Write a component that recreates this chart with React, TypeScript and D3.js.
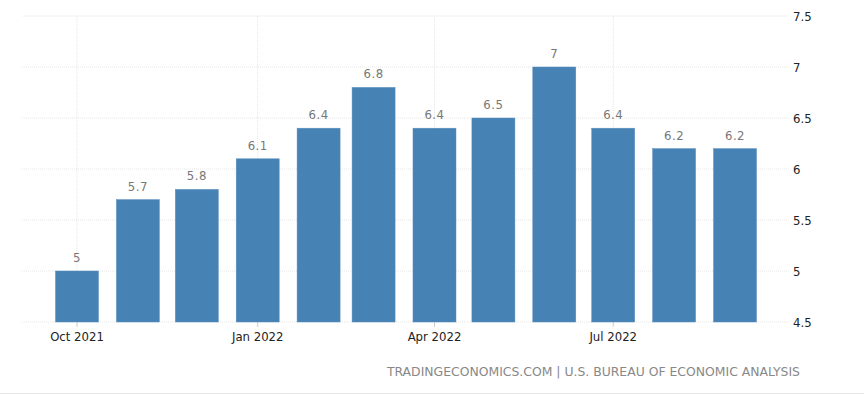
import React from "react";
import * as d3 from "d3";

const months = ["2021-10-01","2021-11-01","2021-12-01","2022-01-01","2022-02-01","2022-03-01","2022-04-01","2022-05-01","2022-06-01","2022-07-01","2022-08-01","2022-09-01"];
const values = [5, 5.7, 5.8, 6.1, 6.4, 6.8, 6.4, 6.5, 7, 6.4, 6.2, 6.2];
const yTicks = [4.5, 5, 5.5, 6, 6.5, 7, 7.5];
const xTickDates = ["2021-10-01", "2022-01-01", "2022-04-01", "2022-07-01"];
const xTickLabels = ["Oct 2021", "Jan 2022", "Apr 2022", "Jul 2022"];
const sourceText = "TRADINGECONOMICS.COM | U.S. BUREAU OF ECONOMIC ANALYSIS";

const W = 864, H = 395;
const FONT = "Tahoma, 'DejaVu Sans Condensed', 'Open Sans', sans-serif";
const parse = (s: string) => new Date(s + "T00:00:00Z");
const DAY = 86400000;

export default function App() {
  const first = parse(months[0]);
  const last = parse(months[months.length - 1]);
  const x = d3.scaleUtc()
    .domain([new Date(first.getTime() - 28 * DAY), new Date(last.getTime() + 28 * DAY)])
    .range([22, 790]);
  const y = d3.scaleLinear().domain([4.5, 7.5]).range([322, 16]);
  const bw = 43;

  return (
    <svg width={W} height={H} style={{ position: "absolute", left: 0, top: 0, background: "#fff" }}>
      <rect x={0} y={0} width={W} height={H} fill="#fff" />
      {yTicks.map((t) => (
        <g key={"y" + t}>
          <line x1={22} x2={790} y1={y(t)} y2={y(t)} stroke="#e6e6e6" strokeDasharray="1,1" />
          <text x={793} y={y(t)} dy="0.35em" fontSize={13} fill="#222" fontFamily={FONT}>{t}</text>
        </g>
      ))}
      {xTickDates.map((d, i) => {
        const px = x(parse(d));
        return (
          <g key={"x" + d}>
            <line x1={px} x2={px} y1={16} y2={322} stroke="#e6e6e6" strokeDasharray="1,1" />
            <line x1={px} x2={px} y1={322} y2={327} stroke="#ccc" />
            <text x={px} y={341} textAnchor="middle" fontSize={13} fill="#222" fontFamily={FONT}>{xTickLabels[i]}</text>
          </g>
        );
      })}
      {months.map((m, i) => {
        const cx = x(parse(m));
        return (
          <g key={m}>
            <rect x={cx - bw / 2} y={y(values[i])} width={bw} height={322 - y(values[i])}
              fill="#4682B4" stroke="#5a8fbf" strokeWidth={0.5} />
            <text x={cx} y={y(values[i]) - 9} textAnchor="middle" fontSize={13} fill="#777" fontFamily={FONT} letterSpacing="0.5">{values[i]}</text>
          </g>
        );
      })}
      <text x={800} y={376} textAnchor="end" fontSize={13} fill="#888" fontFamily={FONT} textLength={413} lengthAdjust="spacingAndGlyphs">{sourceText}</text>
      <line x1={0} x2={W} y1={393.5} y2={393.5} stroke="#e8e8e8" />
    </svg>
  );
}
